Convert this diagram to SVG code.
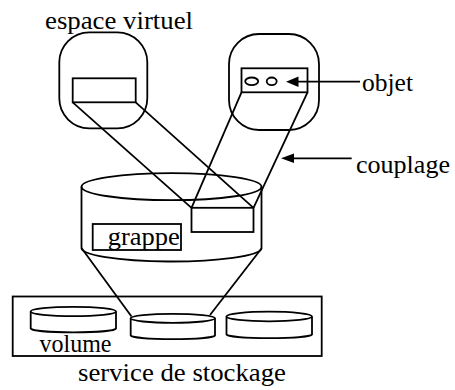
<svg xmlns="http://www.w3.org/2000/svg" width="455" height="390" viewBox="0 0 455 390">
<style>
.s{fill:none;stroke:#000;stroke-width:1.8}
.w{fill:#fff;stroke:#000;stroke-width:1.8}
.t{font-family:'Liberation Serif','Times New Roman',serif;font-size:26px;fill:#000}
</style>
<rect width="455" height="390" fill="#fff"/>

<g id="stockage">
<rect class="s" x="12.7" y="296.5" width="309" height="59.5"/>
<text class="t" x="78" y="381" textLength="208" lengthAdjust="spacingAndGlyphs">service de stockage</text>
</g>

<g id="volume1">
<path class="w" d="M30.7,311.5 L30.7,328.5 A42.7,4 0 0 0 116,328.5 L116,311.5"/>
<ellipse class="w" cx="73.3" cy="311.5" rx="42.7" ry="4.7"/>
<text class="t" x="39.5" y="351.5" textLength="72" lengthAdjust="spacingAndGlyphs">volume</text>
</g>

<g id="volume2">
<path class="w" d="M130.7,318.3 L130.7,335.5 A42.2,3.8 0 0 0 215,335.5 L215,318.3"/>
<ellipse class="w" cx="172.8" cy="318.3" rx="42.2" ry="4.5"/>
</g>

<g id="volume3">
<path class="w" d="M226.5,316.5 L226.5,334.5 A42.8,3.8 0 0 0 312,334.5 L312,316.5"/>
<ellipse class="w" cx="269.2" cy="316.5" rx="42.8" ry="4.8"/>
</g>

<g id="grappe">
<path class="s" d="M81.5,186.7 L81.5,247.5 A90,13.5 0 0 0 261.5,248.5 L261.5,186.7"/>
<ellipse class="s" cx="171.5" cy="186.7" rx="90" ry="13.5"/>
<rect class="s" x="92.7" y="224" width="88.3" height="26"/>
<text class="t" x="107.7" y="244.5" textLength="72" lengthAdjust="spacingAndGlyphs">grappe</text>
<rect class="s" x="191.5" y="207.8" width="62" height="24.2"/>
</g>

<g id="espace">
<rect class="s" x="59.3" y="32.3" width="88" height="96" rx="30" ry="30"/>
<rect class="s" x="72.7" y="78.3" width="63" height="24"/>
<text class="t" x="45" y="29" textLength="148" lengthAdjust="spacingAndGlyphs">espace virtuel</text>
</g>

<g id="espace2">
<rect class="s" x="229" y="34" width="90" height="96" rx="30" ry="30"/>
<rect class="s" x="241.5" y="68.3" width="66" height="24"/>
<ellipse class="s" cx="251.7" cy="81.3" rx="6.5" ry="3.8"/>
<ellipse class="s" cx="271.7" cy="81.3" rx="5" ry="3.8"/>
</g>

<g id="labels">
<text class="t" x="362" y="90.5" textLength="51" lengthAdjust="spacingAndGlyphs">objet</text>
<text class="t" x="356" y="172.5" textLength="94" lengthAdjust="spacingAndGlyphs">couplage</text>
</g>

<g id="connectors">
<line class="s" x1="72.7" y1="102.3" x2="191.5" y2="207.8"/>
<line class="s" x1="135.7" y1="102.3" x2="253.5" y2="207.8"/>
<line class="s" x1="241.5" y1="92.3" x2="191.5" y2="207.8"/>
<line class="s" x1="307.5" y1="92.3" x2="253.5" y2="207.8"/>
<line class="s" x1="81.5" y1="248" x2="131.5" y2="316.5"/>
<line class="s" x1="261.5" y1="248.5" x2="210" y2="315"/>
<line class="s" x1="360" y1="81.7" x2="298" y2="81.7"/>
<path d="M286,81.7 L298.5,76.5 L298.5,86.9 Z" fill="#000"/>
<line class="s" x1="351.7" y1="158.3" x2="294" y2="158.3"/>
<path d="M281,158.3 L294,153.5 L294,163.1 Z" fill="#000"/>
</g>
</svg>
